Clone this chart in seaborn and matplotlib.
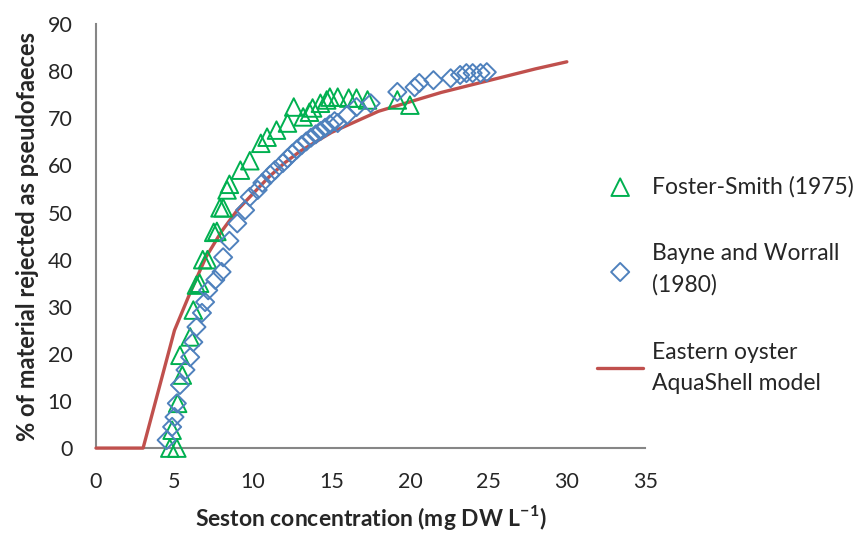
import seaborn as sns
import matplotlib.pyplot as plt

# Foster-Smith (1975)
foster_x = [4.7, 5.15, 4.85, 5.2, 5.5, 5.35, 6.0, 6.2, 6.4, 6.6, 6.8, 7.1, 7.5, 7.7,
            7.9, 8.1, 8.35, 8.5, 9.2, 9.8, 10.5, 10.9, 11.5, 12.2, 12.6, 13.2,
            13.6, 13.8, 14.3, 14.7, 14.9, 15.4, 16.1, 16.6, 17.3, 19.2, 20.0]
foster_y = [0, 0, 3.8, 9.5, 15.5, 19.7, 23.6, 29.3, 34.6, 35, 40, 40, 45.8, 46,
            51, 51, 54.8, 56, 59, 61, 64.7, 66, 67.5, 69, 72.4, 70.3,
            71.3, 72.2, 73.2, 73.9, 74.5, 74.5, 74.3, 74.3, 73.9, 73.9, 72.8]

# Bayne and Worrall (1980)
bayne_x = [4.5, 4.85, 5.0, 5.15, 5.35, 5.7, 6.0, 6.2, 6.4, 6.75, 6.95, 7.15, 7.6,
           8.0, 8.1, 8.5, 9.0, 9.5, 9.8, 10.3, 10.6, 11.1, 11.4, 11.9, 12.2,
           12.5, 12.8, 13.1, 13.4, 13.7, 14.0, 14.3, 14.6, 14.9, 15.2, 15.4,
           16.0, 16.6, 17.5, 19.2, 20.3, 20.6, 21.5, 22.6, 23.2, 23.6, 24.0,
           24.5, 24.9]
bayne_y = [1.7, 4.5, 6.6, 9.5, 13.4, 16.6, 19.3, 22.5, 25.7, 28.7, 31, 33.5, 35.7,
           37.4, 40.5, 44, 47.7, 50.5, 53.3, 54.8, 56.3, 58, 59, 60.5, 61.5,
           62.5, 63.4, 64.3, 65.1, 65.9, 66.6, 67.3, 68.0, 68.7, 69.4, 69,
           70.7, 72.4, 73.2, 75.6, 76.6, 77.5, 78.1, 78.5, 79.2, 79.6, 79.6,
           79.6, 79.8]

# Eastern oyster AquaShell model
model_x = [0, 3, 5, 6, 7, 8, 9, 10, 11, 12, 13, 14, 15, 16, 17, 18, 19, 20, 22,
           25, 28, 30]
model_y = [0, 0, 25, 33, 40.5, 46, 50.5, 54, 57.5, 60.5, 63, 65, 67, 68.5, 70,
           71.5, 72.5, 73.5, 75.5, 78, 80.5, 82]

sns.set_style("white")
plt.rcParams['font.family'] = ['Lato', 'DejaVu Sans']
plt.rcParams['mathtext.fontset'] = 'custom'
plt.rcParams['mathtext.rm'] = 'Lato:bold'
plt.rcParams['mathtext.bf'] = 'Lato:bold'

green = '#00B050'
blue = '#4F81BD'
red = '#C0504D'
grey = '#868686'

fig = plt.figure(figsize=(8.65, 5.36), dpi=100)
ax = fig.add_axes([0.111, 0.164, 0.635, 0.791])

sns.lineplot(x=model_x, y=model_y, color=red, linewidth=2.4, ax=ax,
             label='Eastern oyster\nAquaShell model', zorder=3, clip_on=False)
sns.scatterplot(x=foster_x, y=foster_y, marker='^', s=160, facecolor='none',
                edgecolor=green, linewidth=1.4, ax=ax, label='Foster-Smith (1975)',
                zorder=4, clip_on=False)
sns.scatterplot(x=bayne_x, y=bayne_y, marker='D', s=85, facecolor='none',
                edgecolor=blue, linewidth=1.4, ax=ax,
                label='Bayne and Worrall\n(1980)', zorder=5, clip_on=False)

ax.set_xlim(0, 35)
ax.set_ylim(0, 90)
ax.set_xticks(range(0, 36, 5))
ax.set_yticks(range(0, 91, 10))
ax.tick_params(labelsize=15.5, length=0, pad=17)
ax.set_xlabel('Seston concentration (mg DW L$^{-1}$)', fontsize=16.5,
              fontweight='bold', labelpad=8)
ax.set_ylabel('% of material rejected as pseudofaeces', fontsize=17,
              fontweight='bold', labelpad=6)
for side in ['top', 'right']:
    ax.spines[side].set_visible(False)
for side in ['left', 'bottom']:
    ax.spines[side].set_color(grey)
    ax.spines[side].set_linewidth(1.5)

handles, labels = ax.get_legend_handles_labels()
order = [1, 2, 0]
leg = ax.legend([handles[i] for i in order], [labels[i] for i in order],
                loc='center left', bbox_to_anchor=(0.875, 0.385), frameon=False,
                fontsize=16.5, labelspacing=2.0, handlelength=2.0,
                handletextpad=0.4)
for t in leg.get_texts():
    t.set_linespacing(1.6)

fig.savefig('out.png', dpi=100)
